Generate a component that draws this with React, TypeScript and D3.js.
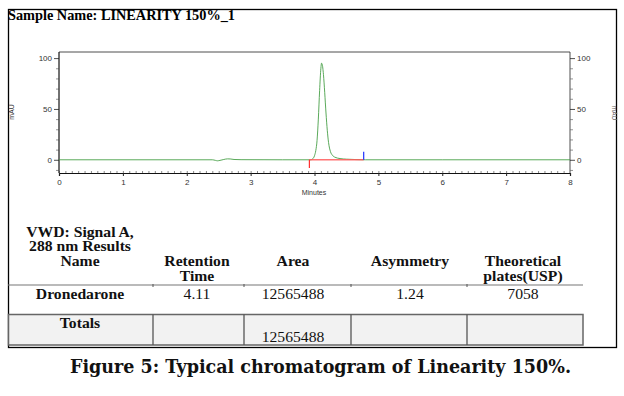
import * as d3 from "d3";
import { useEffect, useRef } from "react";

// chromatogram trace (minutes, mAU)
const traceTime = [0, 2.4, 2.45, 2.48, 2.52, 2.58, 2.64, 2.68, 2.74, 2.85, 3.5, 3.94, 3.97, 4.0, 4.02, 4.04, 4.06, 4.08, 4.1, 4.11, 4.12, 4.14, 4.16, 4.18, 4.2, 4.22, 4.25, 4.28, 4.32, 4.4, 4.5, 4.65, 4.8, 6.0, 8.0];
const traceMAU = [0, 0, -0.6, -1.0, -0.6, 0.3, 0.9, 0.8, 0.3, 0.1, 0, 0, 0.8, 4, 9, 19, 40, 68, 90, 95, 94, 84, 66, 46, 29, 17, 8, 4.5, 2.5, 1.2, 0.6, 0.2, 0, 0, 0];

// integration events
const baselineStart = 3.92;
const baselineEnd = 4.77;

const xTicks = [0, 1, 2, 3, 4, 5, 6, 7, 8];
const yTicks = [0, 50, 100];

// results table
const colCenters = [80, 197, 293, 410, 523];
const headerLine1 = ["Name", "Retention", "Area", "Asymmetry", "Theoretical"];
const headerLine2 = ["", "Time", "", "", "plates(USP)"];
const rowValues = ["Dronedarone", "4.11", "12565488", "1.24", "7058"];
const totalsArea = "12565488";
const colEdges = [8, 153, 244, 351, 467, 583];

const W = 624;
const H = 396;
const plotLeft = 59;
const plotRight = 570;
const plotTop = 52;
const plotBottom = 173;

export default function App() {
    const svgRef = useRef<SVGSVGElement>(null);

    useEffect(() => {
        if (svgRef.current) drawChart();
    }, [svgRef]);

    const drawChart = () => {
        const svg = d3.select(svgRef.current);
        svg.selectAll("*").remove();

        svg.append("rect").attr("width", W).attr("height", H).attr("fill", "#fff");

        const x = d3.scaleLinear().domain([0, 8]).range([plotLeft, plotRight]);
        const y = d3.scaleLinear().domain([-13, 106]).range([plotBottom, plotTop]);

        // outer frame
        svg.append("rect")
            .attr("x", 8.5).attr("y", 9.5).attr("width", 608).attr("height", 338)
            .attr("fill", "none").attr("stroke", "#000").attr("stroke-width", 1.3);

        svg.append("text")
            .attr("x", 8).attr("y", 19.5)
            .attr("font-family", "Liberation Serif").attr("font-weight", "bold")
            .attr("font-size", 14).attr("textLength", 227).attr("lengthAdjust", "spacingAndGlyphs")
            .text("Sample Name: LINEARITY 150%_1");

        // plot box
        const g = svg.append("g");
        g.append("path")
            .attr("d", `M${plotLeft},${plotBottom}V${plotTop}H${plotRight}V${plotBottom}`)
            .attr("fill", "none").attr("stroke", "#222").attr("stroke-width", 0.8);

        const tickFont = (sel: any) => sel.attr("font-family", "Liberation Sans").attr("font-size", 8).attr("fill", "#333");

        // x axis
        g.append("g")
            .attr("transform", `translate(0,${plotBottom})`)
            .call(d3.axisBottom(x).tickValues(xTicks).tickSize(3).tickPadding(3).tickFormat((d) => `${d}`))
            .call((a: any) => a.select(".domain").attr("stroke", "#111").attr("stroke-width", 1.2))
            .call((a: any) => a.selectAll("line").attr("stroke", "#222"))
            .call((a: any) => tickFont(a.selectAll("text")));
        g.append("g")
            .attr("transform", `translate(0,${plotBottom})`)
            .call(d3.axisTop(x).tickValues(d3.range(0, 80).map((i) => i / 10)).tickSize(2).tickFormat(() => ""))
            .call((a: any) => a.select(".domain").remove())
            .call((a: any) => a.selectAll("line").attr("stroke", "#555").attr("stroke-width", 0.7));

        // y axes, left and right
        const yAxisL = d3.axisLeft(y).tickValues(yTicks).tickSize(5).tickPadding(2).tickFormat((d) => `${d}`);
        const yAxisR = d3.axisRight(y).tickValues(yTicks).tickSize(5).tickPadding(2).tickFormat((d) => `${d}`);
        const minorY = d3.range(-10, 101, 10).filter((v) => v % 50 !== 0);
        [
            { axis: yAxisL, minor: d3.axisLeft(y), pos: plotLeft },
            { axis: yAxisR, minor: d3.axisRight(y), pos: plotRight },
        ].forEach(({ axis, minor, pos }) => {
            g.append("g")
                .attr("transform", `translate(${pos},0)`)
                .call(axis)
                .call((a: any) => a.select(".domain").remove())
                .call((a: any) => a.selectAll("line").attr("stroke", "#222").attr("stroke-width", 0.8))
                .call((a: any) => tickFont(a.selectAll("text")));
            g.append("g")
                .attr("transform", `translate(${pos},0)`)
                .call(minor.tickValues(minorY).tickSize(3).tickFormat(() => ""))
                .call((a: any) => a.select(".domain").remove())
                .call((a: any) => a.selectAll("line").attr("stroke", "#666").attr("stroke-width", 0.7));
        });
        g.append("line")
            .attr("x1", plotLeft).attr("x2", plotLeft).attr("y1", plotTop).attr("y2", plotBottom)
            .attr("stroke", "#222").attr("stroke-width", 0.8);

        g.append("text")
            .attr("x", 314).attr("y", 195).attr("text-anchor", "middle")
            .attr("font-family", "Liberation Sans").attr("font-size", 7).attr("fill", "#333")
            .text("Minutes");
        g.append("text")
            .attr("transform", "translate(14,112) rotate(-90)").attr("text-anchor", "middle")
            .attr("font-family", "Liberation Sans").attr("font-size", 7).attr("fill", "#333")
            .text("mAU");
        g.append("text")
            .attr("transform", "translate(612,113) rotate(90)").attr("text-anchor", "middle")
            .attr("font-family", "Liberation Sans").attr("font-size", 6.5).attr("fill", "#666")
            .text("mAU");

        // trace
        const line = d3.line<number>()
            .x((_, i) => x(traceTime[i]))
            .y((d) => y(d))
            .curve(d3.curveMonotoneX);
        g.append("path")
            .attr("d", line(traceMAU))
            .attr("fill", "none").attr("stroke", "#3d9a3d").attr("stroke-width", 1).attr("stroke-opacity", 0.85);

        // integration baseline and events
        g.append("line")
            .attr("x1", x(baselineStart)).attr("x2", x(baselineEnd)).attr("y1", y(0)).attr("y2", y(0))
            .attr("stroke", "#ff5a5a").attr("stroke-width", 1.4).attr("stroke-opacity", 0.85);
        g.append("line")
            .attr("x1", x(baselineStart)).attr("x2", x(baselineStart)).attr("y1", y(0)).attr("y2", y(-8))
            .attr("stroke", "#ff3030").attr("stroke-width", 1.2);
        g.append("line")
            .attr("x1", x(baselineEnd)).attr("x2", x(baselineEnd)).attr("y1", y(0)).attr("y2", y(8))
            .attr("stroke", "#2030ff").attr("stroke-width", 1.2);

        // results table
        const t = svg.append("g").attr("font-family", "Liberation Serif").attr("font-size", 14).attr("fill", "#111");
        const put = (txt: string, cx: number, by: number, bold: boolean) =>
            t.append("text")
                .attr("transform", `translate(${cx},${by}) scale(1.12,1)`)
                .attr("text-anchor", "middle")
                .attr("font-weight", bold ? "bold" : "normal")
                .text(txt);

        put("VWD: Signal A,", colCenters[0], 236.5, true);
        put("288 nm Results", colCenters[0], 251, true);
        headerLine1.forEach((h, i) => put(h, colCenters[i], 266, true));
        headerLine2.forEach((h, i) => h && put(h, colCenters[i], 280.5, true));
        rowValues.forEach((v, i) => put(v, colCenters[i], 299, i === 0));

        t.append("line")
            .attr("x1", 8).attr("x2", 583).attr("y1", 285).attr("y2", 285)
            .attr("stroke", "#777").attr("stroke-width", 1.2);
        colEdges.slice(1, 5).forEach((e) =>
            t.append("line").attr("x1", e).attr("x2", e).attr("y1", 284).attr("y2", 287)
                .attr("stroke", "#555").attr("stroke-width", 1)
        );

        // totals row
        t.append("rect")
            .attr("x", 8.5).attr("y", 314.5).attr("width", 574.5).attr("height", 30.5)
            .attr("fill", "#f2f2f2").attr("stroke", "#666").attr("stroke-width", 1.5);
        colEdges.slice(1, 5).forEach((e) =>
            t.append("line").attr("x1", e).attr("x2", e).attr("y1", 314.5).attr("y2", 345)
                .attr("stroke", "#555").attr("stroke-width", 1.3)
        );
        put("Totals", colCenters[0], 328, true);
        put(totalsArea, colCenters[2], 342, false);

        // caption
        svg.append("text")
            .attr("x", 70).attr("y", 372.5)
            .attr("font-family", "DejaVu Serif").attr("font-weight", "bold")
            .attr("font-size", 18).attr("fill", "#111")
            .attr("textLength", 501).attr("lengthAdjust", "spacingAndGlyphs")
            .text("Figure 5: Typical chromatogram of Linearity 150%.");
    };

    return (
        <svg
            ref={svgRef}
            width={W}
            height={H}
            style={{ position: "absolute", left: 0, top: 0, display: "block" }}
        />
    );
}
